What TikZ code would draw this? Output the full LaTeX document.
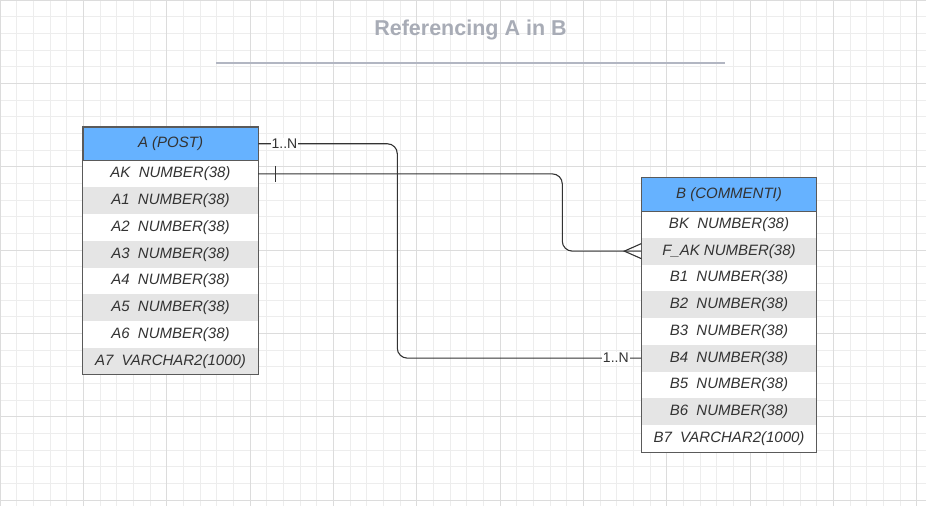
\documentclass[tikz,border=0pt]{standalone}
\usepackage{fontspec}
\setmainfont{Liberation Sans}
\usetikzlibrary{calc,positioning}
\definecolor{gridminor}{HTML}{EDEDED}
\definecolor{gridmajor}{HTML}{DCDCDC}
\definecolor{headblue}{HTML}{66B2FF}
\definecolor{rowgray}{HTML}{E5E5E5}
\definecolor{tableline}{HTML}{5A5A5A}
\definecolor{textgray}{HTML}{333333}
\definecolor{titlegray}{HTML}{A8ACB6}
\definecolor{rulegray}{HTML}{B2B6C2}
\tikzset{
  erow/.style={minimum width=175, minimum height=26.75,
    inner sep=0pt, text=textgray, font=\fontsize{15}{18}\selectfont\itshape},
  ehead/.style={erow, draw=tableline, line width=0.8pt, fill=headblue, minimum height=33.5},
  eframe/.style={draw=tableline, line width=0.8pt},
  link/.style={draw=textgray, line width=1.1pt, rounded corners=10},
  card/.style={fill=white, inner sep=1pt, text=textgray, font=\fontsize{14}{16}\selectfont}
}

\begin{document}
\begin{tikzpicture}[x=1pt, y=-1pt]
  \useasboundingbox (0,0) rectangle (926,506);
  \fill[white] (0,0) rectangle (926,506);
  % Background grid
  \foreach \k in {0,...,55}
    \draw[gridminor, line width=1pt] (\k*16.6667,0) -- (\k*16.6667,506);
  \foreach \k in {0,...,30}
    \draw[gridminor, line width=1pt] (0,\k*16.6667) -- (926,\k*16.6667);
  \foreach \k in {0,...,11}
    \draw[gridmajor, line width=1pt] (\k*83.3333,0) -- (\k*83.3333,506);
  \foreach \k in {0,...,6}
    \draw[gridmajor, line width=1pt] (0,\k*83.3333) -- (926,\k*83.3333);
  % Title
  \node[text=titlegray, font=\fontsize{21.5}{24}\selectfont\bfseries] (title) at (470.5,30) {Referencing A in B};
  \draw[rulegray, line width=2pt] (216,63) -- (725,63);
  % Table A
  \foreach \i/\t/\c [count=\n] in {ak/{AK\ \ NUMBER(38)}/white, 1/{A1\ \ NUMBER(38)}/rowgray,
      2/{A2\ \ NUMBER(38)}/white, 3/{A3\ \ NUMBER(38)}/rowgray, 4/{A4\ \ NUMBER(38)}/white,
      5/{A5\ \ NUMBER(38)}/rowgray, 6/{A6\ \ NUMBER(38)}/white, 7/{A7\ \ VARCHAR2(1000)}/rowgray}
    \node[erow, fill=\c] (a-\i) at (170.5,160.5+\n*26.75-13.375) {\t};
  \node[ehead] (a-h) at (170.5,143.75) {A (POST)};
  \draw[eframe] (a-h.north west) rectangle (a-7.south east);
  % Table B
  \foreach \i/\t/\c [count=\n] in {bk/{BK\ \ NUMBER(38)}/white, fak/{F\_AK NUMBER(38)}/rowgray,
      1/{B1\ \ NUMBER(38)}/white, 2/{B2\ \ NUMBER(38)}/rowgray, 3/{B3\ \ NUMBER(38)}/white,
      4/{B4\ \ NUMBER(38)}/rowgray, 5/{B5\ \ NUMBER(38)}/white, 6/{B6\ \ NUMBER(38)}/rowgray,
      7/{B7\ \ VARCHAR2(1000)}/white}
    \node[erow, fill=\c] (b-\i) at (729,211+\n*26.75-13.375) {\t};
  \node[ehead] (b-h) at (729,194.5) {B (COMMENTI)};
  \draw[eframe] (b-h.north west) rectangle (b-7.south east);
  % Relation POST -> B4 (1..N)
  \draw[link] (a-h.east) -| ($(b-4.west)+(-244,0)$) -- (b-4.west);
  \node[card] (c1) at (284.5,143.75) {1..N};
  \node[card] (c2) at ($(b-4.west)+(-25.5,0)$) {1..N};
  % Relation AK -> F_AK (one to many)
  \draw[link] (a-ak.east) -| ($(b-fak.west)+(-79,0)$) -- (b-fak.west);
  \draw[textgray, line width=1.1pt] ($(a-ak.east)+(17,-8)$) -- ++(0,16);
  \draw[textgray, line width=1.1pt] ($(b-fak.west)+(0,-7.5)$) -- ($(b-fak.west)+(-17,0)$)
    -- ($(b-fak.west)+(0,7.5)$);
\end{tikzpicture}
\end{document}
